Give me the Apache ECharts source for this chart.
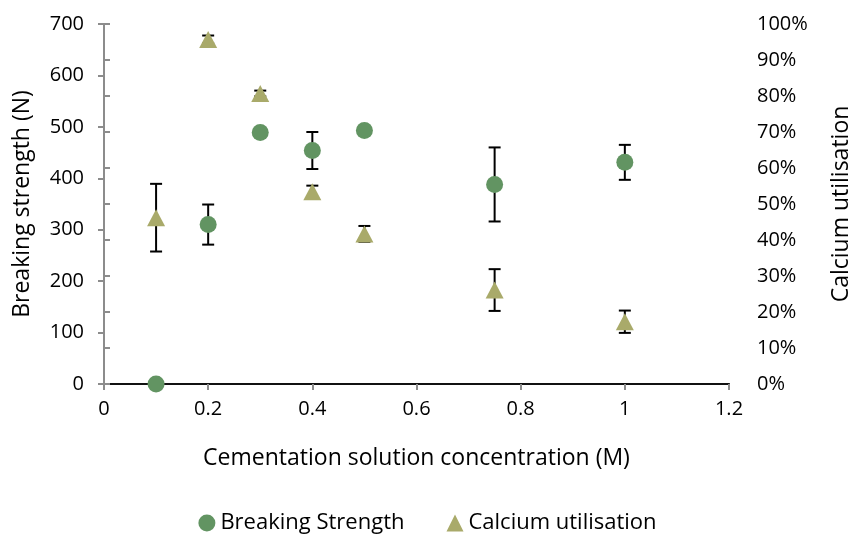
<!DOCTYPE html>
<html><head><meta charset="utf-8">
<script src="https://cdn.jsdelivr.net/npm/echarts@6/dist/echarts.min.js"></script>
<style>html,body{margin:0;padding:0;background:#fff}#c{width:855px;height:539px}</style>
</head><body><div id="c"></div>
<script>
const concentration = [0.1, 0.2, 0.3, 0.4, 0.5, 0.75, 1.0];
const breakingStrength = [0, 310, 489, 454, 493, 388, 431];
const breakingStrengthErr = [0, 39, 0, 36, 5, 72, 34];
const calciumUtil = [0.462, 0.957, 0.807, 0.534, 0.417, 0.261, 0.173];
const calciumUtilErr = [0.094, 0.011, 0.008, 0.017, 0.022, 0.058, 0.031];
const xTicks = [0, 0.2, 0.4, 0.6, 0.8, 1.0, 1.2];

const FONT = 'Open Sans';
const GREEN = '#629462';
const OLIVE = '#a9aa6a';
const AXIS = '#8c8c8c';

const bsPts = concentration.map((x, i) => [x, breakingStrength[i]]);
const cuPts = concentration.map((x, i) => [x, calciumUtil[i]]);
const bsErr = concentration.map((x, i) => [x, breakingStrength[i] - breakingStrengthErr[i], breakingStrength[i] + breakingStrengthErr[i]]).filter((d, i) => breakingStrengthErr[i] > 0);
const cuErr = concentration.map((x, i) => [x, calciumUtil[i] - calciumUtilErr[i], calciumUtil[i] + calciumUtilErr[i]]);

function errRender(params, api) {
  const x = api.value(0);
  const lo = api.coord([x, api.value(1)]);
  const hi = api.coord([x, api.value(2)]);
  const cap = 6;
  const st = { stroke: '#000', lineWidth: 2 };
  return {
    type: 'group',
    children: [
      { type: 'line', shape: { x1: lo[0], y1: lo[1], x2: hi[0], y2: hi[1] }, style: st },
      { type: 'line', shape: { x1: lo[0] - cap, y1: lo[1], x2: lo[0] + cap, y2: lo[1] }, style: st },
      { type: 'line', shape: { x1: hi[0] - cap, y1: hi[1], x2: hi[0] + cap, y2: hi[1] }, style: st }
    ]
  };
}

const chart = echarts.init(document.getElementById('c'));
chart.setOption({
  animation: false,
  textStyle: { fontFamily: FONT },
  grid: { left: 104, right: 126, top: 24, bottom: 155, containLabel: false, outerBoundsMode: 'none' },
  legend: {
    bottom: 0, left: 'center', itemGap: 42, itemWidth: 17, itemHeight: 17,
    textStyle: { fontFamily: FONT, fontSize: 22, color: '#000' },
    data: [
      { name: 'Breaking Strength', icon: 'circle', itemStyle: { color: GREEN } },
      { name: 'Calcium utilisation', icon: 'triangle', itemStyle: { color: OLIVE } }
    ]
  },
  xAxis: [{
    type: 'value', min: 0, max: 1.2, interval: 0.2,
    name: 'Cementation solution concentration (M)', nameLocation: 'middle', nameGap: 63,
    nameTextStyle: { fontSize: 23, color: '#000', fontFamily: FONT },
    axisLine: { show: true, onZero: false, lineStyle: { color: AXIS, width: 2 } },
    axisTick: { show: true, length: 6, lineStyle: { color: AXIS, width: 2 } },
    axisLabel: { fontSize: 20, color: '#000', margin: 15, fontFamily: FONT },
    splitLine: { show: false }
  }, {
    type: 'value', min: 0, max: 1.2, position: 'top',
    axisLine: { show: true, lineStyle: { color: '#111', width: 2 } },
    axisTick: { show: false }, axisLabel: { show: false }, splitLine: { show: false }
  }],
  yAxis: [{
    type: 'value', min: 0, max: 700, interval: 100,
    name: 'Breaking strength (N)', nameLocation: 'middle', nameGap: 70, nameRotate: 90,
    nameTextStyle: { fontSize: 23, color: '#000', fontFamily: FONT },
    axisLine: { show: true, lineStyle: { color: AXIS, width: 2 } },
    axisTick: { show: true, length: 6, lineStyle: { color: AXIS, width: 2 } },
    axisLabel: { fontSize: 20, color: '#000', margin: 20, fontFamily: FONT },
    splitLine: { show: false }
  }, {
    type: 'value', min: 0, max: 1, interval: 0.1, position: 'right',
    name: 'Calcium utilisation', nameLocation: 'middle', nameGap: 101, nameRotate: 90,
    nameTextStyle: { fontSize: 23, color: '#000', fontFamily: FONT },
    axisLine: { show: true, lineStyle: { color: AXIS, width: 2 } },
    axisTick: { show: true, length: 6, lineStyle: { color: AXIS, width: 2 } },
    axisLabel: { fontSize: 20, color: '#000', margin: 28, fontFamily: FONT, align: 'left',
      formatter: v => Math.round(v * 100) + '%' },
    splitLine: { show: false }
  }],
  series: [
    { type: 'custom', name: 'bsErr', yAxisIndex: 0, data: bsErr, renderItem: errRender, z: 1, silent: true },
    { type: 'custom', name: 'cuErr', yAxisIndex: 1, data: cuErr, renderItem: errRender, z: 1, silent: true },
    { type: 'scatter', name: 'Breaking Strength', yAxisIndex: 0, data: bsPts, symbol: 'circle', symbolSize: 17,
      itemStyle: { color: GREEN, opacity: 1 }, z: 3 },
    { type: 'scatter', name: 'Calcium utilisation', yAxisIndex: 1, data: cuPts, symbol: 'triangle', symbolSize: [18, 17],
      itemStyle: { color: OLIVE, opacity: 1 }, z: 3 }
  ]
});
</script></body></html>
